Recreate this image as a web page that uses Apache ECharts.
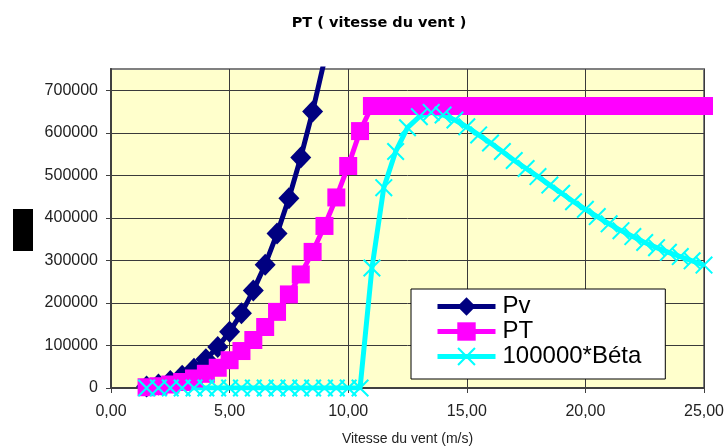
<!DOCTYPE html>
<html><head><meta charset="utf-8">
<script src="https://cdn.jsdelivr.net/npm/echarts@6/dist/echarts.min.js"></script>
<style>html,body{margin:0;padding:0;background:#fff}#c{width:727px;height:447px}</style>
</head><body><div id="c"></div>
<script>
// Wind speed (m/s)
const speeds = [1.5,2,2.5,3,3.5,4,4.5,5,5.5,6,6.5,7,7.5,8,8.5,9,9.5,10,10.5,11,11.5,12,12.5,13,13.5,14,14.5,15,15.5,16,16.5,17,17.5,18,18.5,19,19.5,20,20.5,21,21.5,22,22.5,23,23.5,24,24.5,25];
// Pv (wind power) – values beyond 10 m/s are far above the visible range
const pv = [3600,8500,16500,28600,45400,67700,96400,132000,176000,229000,290000,363000,446000,542000,650000,771000,907000,1058000];
// PT (turbine power)
const pt = [1800,4200,8200,14100,22400,33400,47600,65300,86900,112800,143400,179000,220000,267000,320000,381000,448000,522000,604000,663000,663000,663000,663000,663000,663000,663000,663000,663000,663000,663000,663000,663000,663000,663000,663000,663000,663000,663000,663000,663000,663000,663000,663000,663000,663000,663000,663000,663000];
// 100000*Béta
const beta = [0,0,0,0,0,0,0,0,0,0,0,0,0,0,0,0,0,0,0,282000,471000,556000,612000,638000,648000,642000,630000,614000,595000,576000,556000,535000,516000,497000,477000,458000,438000,420000,403000,386000,370000,356000,342000,330000,319000,309000,299000,289000];
const xTicks = [0,5,10,15,20,25];
const yTicks = [0,100000,200000,300000,400000,500000,600000,700000];
const seriesNames = ['Pv','PT','100000*Béta'];

const pair = arr => arr.map((v,i)=>[speeds[i], v]);
const crossPath = 'path://M0,0.8L0.8,0L10,9.2L9.2,10Z M9.2,0L10,0.8L0.8,10L0,9.2Z';
const ff = '"Liberation Sans", Arial, sans-serif';

const chart = echarts.init(document.getElementById('c'), null, {renderer:'canvas'});
chart.setOption({
  animation:false,
  backgroundColor:'#ffffff',
  title:{
    text:'PT ( vitesse du vent )',
    left:374, top:11, textAlign:'center',
    textStyle:{fontFamily:'"DejaVu Sans", sans-serif', fontWeight:'bold', fontSize:14.5, color:'#000'}
  },
  grid:{left:111, right:23, top:69, bottom:59, containLabel:false, outerBoundsMode:'none',
        show:true, backgroundColor:'#FFFFCC', borderColor:'#808080', borderWidth:2},
  legend:{
    orient:'vertical', left:411, top:289,
    backgroundColor:'#fff', borderColor:'#000', borderWidth:1,
    padding:[5,24,10,24], itemWidth:58, itemHeight:23, itemGap:0,
    lineStyle:{width:5},
    textStyle:{fontFamily:ff, fontSize:24, color:'#000', lineHeight:25, padding:[0,0,0,2]},
    data:seriesNames
  },
  xAxis:{
    type:'value', min:0, max:25, interval:5,
    name:'Vitesse du vent (m/s)', nameLocation:'middle', nameGap:44,
    nameTextStyle:{fontFamily:ff, fontSize:14, color:'#222'},
    axisLine:{lineStyle:{color:'#404040', width:2}},
    axisTick:{show:true, length:5, lineStyle:{color:'#404040'}},
    axisLabel:{fontFamily:ff, fontSize:16, color:'#222', margin:16, formatter:v=>v.toFixed(2).replace('.',','), customValues:xTicks},
    splitLine:{show:true, lineStyle:{color:'#3a3a3a', width:1}}
  },
  yAxis:{
    type:'value', min:0, max:750000, interval:100000,
    axisLine:{show:true, lineStyle:{color:'#404040', width:2}},
    axisTick:{show:true, length:5, lineStyle:{color:'#404040'}, customValues:yTicks},
    axisLabel:{fontFamily:ff, fontSize:16, color:'#222', margin:13, customValues:yTicks, formatter:v=>String(v)},
    splitLine:{show:true, lineStyle:{color:'#3a3a3a', width:1}}
  },
  graphic:[{type:'rect', shape:{x:13, y:209, width:20, height:42}, style:{fill:'#000'}}],
  series:[
    {name:'Pv', type:'line', data:pair(pv), clip:true, symbol:'diamond', symbolSize:[21,22],
     lineStyle:{color:'#000080', width:5}, itemStyle:{color:'#000080'}},
    {name:'PT', type:'line', data:pair(pt), clip:true, symbol:'rect', symbolSize:18,
     lineStyle:{color:'#FF00FF', width:5}, itemStyle:{color:'#FF00FF'}},
    {name:'100000*Béta', type:'line', data:pair(beta), clip:true, symbol:crossPath, symbolSize:18,
     lineStyle:{color:'#00FFFF', width:5}, itemStyle:{color:'#00FFFF'}}
  ]
});
</script></body></html>
